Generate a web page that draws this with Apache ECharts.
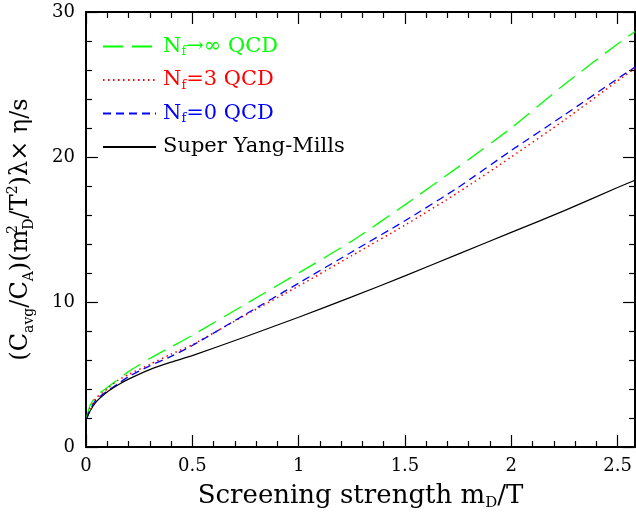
<!DOCTYPE html>
<html>
<head>
<meta charset="utf-8">
<script src="https://cdn.jsdelivr.net/npm/echarts@6/dist/echarts.min.js"></script>
<style>
  html, body { margin: 0; padding: 0; background: #ffffff; }
  #chart { width: 636px; height: 516px; }
</style>
</head>
<body>
<div id="chart"></div>
<script>
// Screening strength m_D/T at which each curve is sampled
const screening = [0.003, 0.02, 0.05, 0.1, 0.15, 0.2, 0.3, 0.4, 0.5, 0.75, 1.0, 1.25, 1.5, 1.75, 2.0, 2.25, 2.5, 2.582];

// (C_avg/C_A)(m_D^2/T^2) λ × η/s for each theory
const nfInfinity = [2.05, 2.9, 3.55, 4.1, 4.65, 5.2, 6.1, 6.9, 7.7, 9.85, 12.0, 14.2, 16.7, 19.3, 22.0, 25.0, 27.8, 28.65];
const nf3        = [1.95, 2.7, 3.4, 4.0, 4.6, 5.0, 5.7, 6.4, 7.05, 9.1, 11.1, 13.2, 15.3, 17.55, 20.0, 22.55, 25.25, 26.1];
const nf0        = [1.95, 2.6, 3.3, 3.85, 4.35, 4.85, 5.6, 6.25, 7.0, 9.15, 11.3, 13.45, 15.6, 17.9, 20.45, 22.9, 25.4, 26.2];
const superYM    = [1.95, 2.5, 3.15, 3.8, 4.28, 4.68, 5.34, 5.85, 6.3, 7.6, 8.95, 10.35, 11.8, 13.3, 14.8, 16.3, 17.9, 18.4];

// Axis ranges and tick steps
const xRange = [0, 2.582];
const yRange = [0, 30];
const xTickStep = 0.5;
const yTickStep = 10;

const FONT = 'DejaVu Serif';
const GREEN = '#00ff00', RED = '#ff0000', BLUE = '#0000ff', BLACK = '#000000';

const pairs = ys => screening.map((x, i) => [x, ys[i]]);

// rich styles for legend entries: a main run and a subscript run per colour
function legendRich(key, color) {
  const r = {};
  r[key] = { color: color, fontFamily: FONT, fontSize: 21, lineHeight: 24 };
  r[key + 's'] = { color: color, fontFamily: FONT, fontSize: 13, lineHeight: 13, verticalAlign: 'bottom' };
  return r;
}
const legendStyles = Object.assign({},
  legendRich('g', GREEN), legendRich('r', RED), legendRich('b', BLUE), legendRich('k', BLACK));

const legendText = {
  'Nf→∞ QCD': '{g|N}{gs|f}{g|→∞ QCD}',
  'Nf=3 QCD': '{r|N}{rs|f}{r|=3 QCD}',
  'Nf=0 QCD': '{b|N}{bs|f}{b|=0 QCD}',
  'Super Yang-Mills': '{k|Super Yang-Mills}'
};

function axisCommon(extra) {
  return Object.assign({
    type: 'value',
    axisLine: { show: true, onZero: false, lineStyle: { color: BLACK, width: 2 } },
    axisTick: { show: true, inside: true, length: 12, lineStyle: { color: BLACK, width: 1.2 } },
    minorTick: { show: true, splitNumber: 5, length: 6, lineStyle: { color: BLACK, width: 1.2 } },
    splitLine: { show: false },
    minorSplitLine: { show: false }
  }, extra);
}

const tickLabel = { color: BLACK, fontFamily: FONT, fontSize: 18, showMaxLabel: false };

const chart = echarts.init(document.getElementById('chart'), null, { renderer: 'canvas' });

chart.setOption({
  animation: false,
  backgroundColor: '#ffffff',
  grid: { left: 86, top: 12, width: 549, height: 435, containLabel: false, outerBoundsMode: 'none' },
  xAxis: [
    axisCommon({
      position: 'bottom', min: xRange[0], max: xRange[1], interval: xTickStep,
      axisLabel: Object.assign({ margin: 10 }, tickLabel),
      name: '{t|Screening strength m}{s|D}{t|/T}',
      nameLocation: 'middle', nameGap: 34,
      nameTextStyle: {
        fontFamily: FONT, fontSize: 26, color: BLACK,
        rich: {
          t: { fontFamily: FONT, fontSize: 26, lineHeight: 30, color: BLACK },
          s: { fontFamily: FONT, fontSize: 15, lineHeight: 15, verticalAlign: 'bottom', color: BLACK }
        }
      }
    }),
    axisCommon({
      position: 'top', min: xRange[0], max: xRange[1], interval: xTickStep,
      axisLabel: { show: false }
    })
  ],
  yAxis: [
    axisCommon({
      position: 'left', min: yRange[0], max: yRange[1], interval: yTickStep,
      axisLabel: Object.assign({ margin: 11 }, tickLabel, { showMaxLabel: true }),
      name: '{t|(C}{s|avg}{t|/C}{s|A}{t|)(m}{p0|2}{s|D}{t|/T}{p|2}{t|)λ× η/s}',
      nameLocation: 'middle', nameRotate: 90, nameGap: 50,
      nameTextStyle: {
        fontFamily: FONT, fontSize: 24, color: BLACK,
        rich: {
          t: { fontFamily: FONT, fontSize: 24, lineHeight: 30, color: BLACK },
          s: { fontFamily: FONT, fontSize: 14, lineHeight: 14, verticalAlign: 'bottom', color: BLACK },
          p: { fontFamily: FONT, fontSize: 14, lineHeight: 14, verticalAlign: 'top', color: BLACK },
          p0: { fontFamily: FONT, fontSize: 14, lineHeight: 14, verticalAlign: 'top', width: 0, color: BLACK }
        }
      }
    }),
    axisCommon({
      position: 'right', min: yRange[0], max: yRange[1], interval: yTickStep,
      axisLabel: { show: false }
    })
  ],
  legend: {
    orient: 'vertical', left: 97, top: 31,
    itemWidth: 53, itemHeight: 14, itemGap: 11,
    selectedMode: false,
    itemStyle: { opacity: 0 },
    formatter: name => legendText[name],
    textStyle: { fontFamily: FONT, fontSize: 21, padding: [0, 0, 0, 2], rich: legendStyles },
    data: ['Nf→∞ QCD', 'Nf=3 QCD', 'Nf=0 QCD', 'Super Yang-Mills']
  },
  series: [
    {
      name: 'Nf→∞ QCD', type: 'line', data: pairs(nfInfinity),
      symbol: 'none', smooth: 0.2,
      itemStyle: { color: GREEN },
      lineStyle: { color: GREEN, width: 1.3, type: [20, 9] }
    },
    {
      name: 'Nf=3 QCD', type: 'line', data: pairs(nf3),
      symbol: 'none', smooth: 0.2,
      itemStyle: { color: RED },
      lineStyle: { color: RED, width: 1.5, type: [1.5, 3.5] }
    },
    {
      name: 'Nf=0 QCD', type: 'line', data: pairs(nf0),
      symbol: 'none', smooth: 0.2,
      itemStyle: { color: BLUE },
      lineStyle: { color: BLUE, width: 1.3, type: [8, 5] }
    },
    {
      name: 'Super Yang-Mills', type: 'line', data: pairs(superYM),
      symbol: 'none', smooth: 0.2,
      itemStyle: { color: BLACK },
      lineStyle: { color: BLACK, width: 1.2, type: 'solid' }
    }
  ]
});
</script>
</body>
</html>
